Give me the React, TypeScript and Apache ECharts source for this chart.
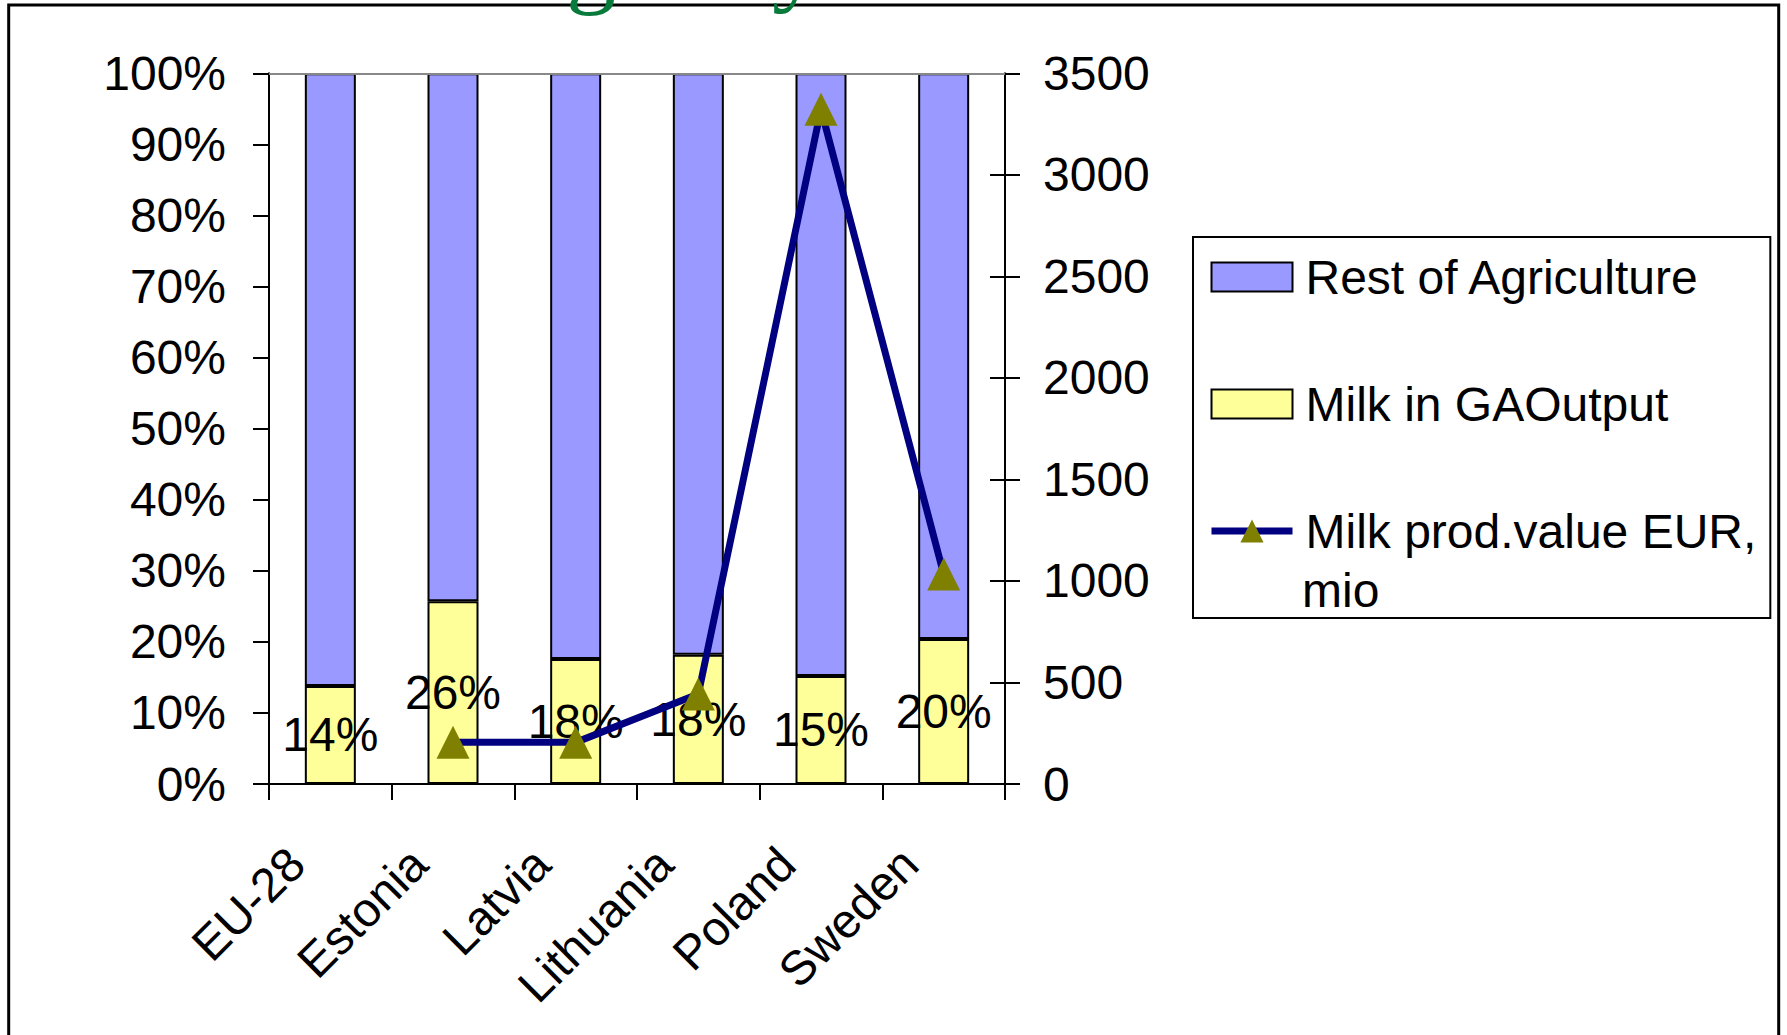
import React, { useEffect, useRef } from "react";
import * as echarts from "echarts";

const categories = ["EU-28", "Estonia", "Latvia", "Lithuania", "Poland", "Sweden"];
const milkShare = [0.138, 0.257, 0.176, 0.182, 0.152, 0.204];
const restShare = [0.862, 0.743, 0.824, 0.818, 0.848, 0.796];
const milkValueEUR: (number | null)[] = [null, 205, 205, 443, 3323, 1034];

const REST_NAME = "Rest of Agriculture";
const MILK_NAME = "Milk in GAOutput";
const LINE_NAME = "Milk prod.value EUR, mio";
const LINE_LEGEND_FIRST = "Milk prod.value EUR,";
const LINE_LEGEND_SECOND = "mio";

const FONT = '"Liberation Sans", Arial, sans-serif';

export default function App() {
  const ref = useRef<HTMLDivElement>(null);

  useEffect(() => {
    if (!ref.current) return;
    const chart = echarts.init(ref.current, null, { renderer: "svg" });
    const axisLabelBase = { fontSize: 48, color: "#000", fontFamily: FONT };
    chart.setOption({
      animation: false,
      backgroundColor: "#fff",
      textStyle: { fontFamily: FONT, color: "#000" },
      grid: {
        left: 269,
        right: 782,
        top: 73.3,
        bottom: 251,
        containLabel: false,
        outerBoundsMode: "none",
      },
      legend: {
        orient: "vertical",
        left: 1193,
        top: 237,
        padding: [12, 14, 59, 15],
        itemGap: 71,
        itemWidth: 81,
        itemHeight: 29,
        borderColor: "#000",
        borderWidth: 2,
        backgroundColor: "#fff",
        selectedMode: false,
        textStyle: {
          fontSize: 48,
          color: "#000",
          fontFamily: FONT,
          lineHeight: 56,
          padding: [0, 0, 0, 8],
        },
        formatter: (name: string) => (name === LINE_NAME ? LINE_LEGEND_FIRST : name),
        data: [
          { name: REST_NAME, icon: "rect", itemStyle: { borderColor: "#000", borderWidth: 2 } },
          { name: MILK_NAME, icon: "rect", itemStyle: { borderColor: "#000", borderWidth: 2 } },
          { name: LINE_NAME, lineStyle: { width: 7 } },
        ],
      },
      xAxis: {
        type: "category",
        data: categories,
        boundaryGap: true,
        axisLine: { show: true, lineStyle: { color: "#000", width: 2 } },
        axisTick: { show: true, length: 16, alignWithLabel: false, lineStyle: { color: "#000", width: 2 } },
        axisLabel: { ...axisLabelBase, rotate: 45, margin: 38, interval: 0, padding: [0, 48, 0, 0] },
        splitLine: { show: false },
      },
      yAxis: [
        {
          type: "value",
          position: "left",
          min: 0,
          max: 1,
          interval: 0.1,
          axisLine: { show: true, lineStyle: { color: "#000", width: 2 } },
          axisTick: { show: true, length: 16, lineStyle: { color: "#000", width: 2 } },
          axisLabel: {
            ...axisLabelBase,
            margin: 43,
            formatter: (v: number) => Math.round(v * 100) + "%",
          },
          splitLine: { show: false },
        },
        {
          type: "value",
          position: "right",
          min: 0,
          max: 3500,
          interval: 500,
          axisLine: { show: true, lineStyle: { color: "#000", width: 2 } },
          axisTick: { show: true, length: 15, lineStyle: { color: "#000", width: 2 } },
          axisLabel: { ...axisLabelBase, margin: 38, formatter: (v: number) => String(v) },
          splitLine: { show: false },
        },
        {
          type: "value",
          position: "right",
          min: 0,
          max: 3500,
          interval: 500,
          axisLine: { show: false },
          axisTick: { show: true, inside: true, length: 15, lineStyle: { color: "#000", width: 2 } },
          axisLabel: { show: false },
          splitLine: { show: false },
        },
      ],
      series: [
        {
          name: MILK_NAME,
          type: "bar",
          stack: "total",
          yAxisIndex: 0,
          barWidth: 51,
          data: milkShare,
          itemStyle: { color: "#FFFF99", borderColor: "#000", borderWidth: 2 },
          label: {
            show: true,
            position: "inside",
            fontSize: 48,
            color: "#000",
            fontFamily: FONT,
            formatter: (p: any) => Math.round(p.value * 100) + "%",
          },
          z: 2,
        },
        {
          name: REST_NAME,
          type: "bar",
          stack: "total",
          yAxisIndex: 0,
          barWidth: 51,
          data: restShare,
          itemStyle: { color: "#9999FF", borderColor: "#000", borderWidth: 2 },
          markLine: {
            silent: true,
            symbol: ["none", "none"],
            label: { show: false },
            lineStyle: { color: "#888", width: 2, type: "solid" },
            data: [{ yAxis: 1 }],
          },
          z: 2,
        },
        {
          name: LINE_NAME,
          type: "line",
          yAxisIndex: 1,
          data: milkValueEUR,
          symbol: "triangle",
          symbolSize: 33,
          lineStyle: { color: "#000080", width: 7 },
          itemStyle: { color: "#808000" },
          z: 5,
        },
      ],
      graphic: [
        {
          type: "rect",
          shape: { x: 8.7, y: 5, width: 1770, height: 1100 },
          style: { fill: "none", stroke: "#000", lineWidth: 3 },
          silent: true,
          z: 1,
        },
        {
          type: "text",
          x: 1302,
          y: 590,
          style: {
            text: LINE_LEGEND_SECOND,
            fontSize: 48,
            fontFamily: FONT,
            fill: "#000",
            align: "left",
            verticalAlign: "middle",
          },
          z: 10,
        },
        {
          type: "text",
          x: 566,
          y: -39,
          style: {
            text: "g",
            fontSize: 100,
            fontFamily: '"Liberation Serif", serif',
            fill: "#087A3C",
            align: "left",
            verticalAlign: "middle",
          },
          z: 10,
        },
        {
          type: "text",
          x: 772,
          y: -41,
          style: {
            text: "y",
            fontSize: 100,
            fontFamily: '"Liberation Serif", serif',
            fill: "#087A3C",
            align: "left",
            verticalAlign: "middle",
          },
          z: 10,
        },
      ],
    });
    return () => chart.dispose();
  }, []);

  return (
    <div
      ref={ref}
      style={{ position: "fixed", left: 0, top: 0, width: 1787, height: 1035, background: "#fff" }}
    />
  );
}
